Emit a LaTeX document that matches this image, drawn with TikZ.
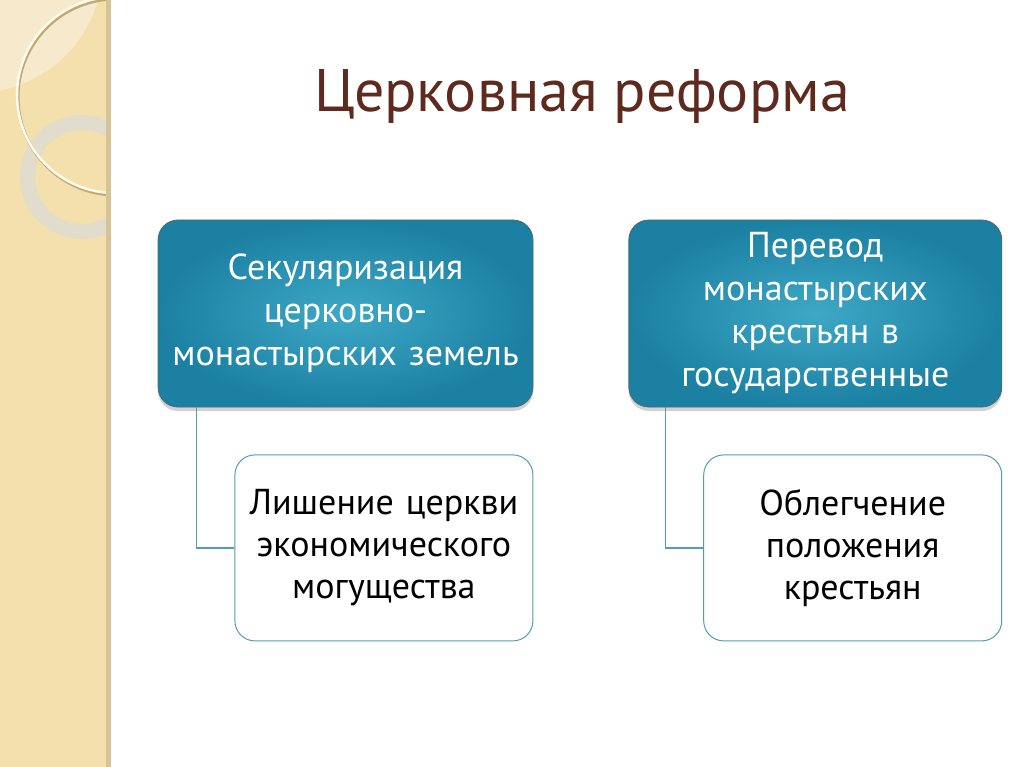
\documentclass[tikz,border=0pt]{standalone}
\usepackage{fontspec}
\setmainfont{PT Sans}
\usetikzlibrary{positioning,shadows}
\definecolor{stripbg}{RGB}{243,224,172}
\definecolor{striplight}{RGB}{247,234,204}
\definecolor{stripedge}{RGB}{214,196,148}
\definecolor{ringgrey}{RGB}{226,220,204}
\definecolor{ringcream}{RGB}{255,251,236}
\definecolor{ringtan}{RGB}{190,170,120}
\definecolor{titlebrown}{RGB}{94,42,30}
\definecolor{tealin}{RGB}{62,168,198}
\definecolor{tealout}{RGB}{27,128,162}
\definecolor{tealborder}{RGB}{80,104,116}
\definecolor{linkteal}{RGB}{84,156,178}
\tikzset{
    main box/.style = {
        rectangle,
        rounded corners=20pt,
        draw=tealborder,
        line width=0.8pt,
        inner color=tealin,
        outer color=tealout,
        text=white,
        align=center,
        minimum height=187pt,
        font=\fontsize{36}{43}\selectfont,
        drop shadow={opacity=0.35, shadow xshift=0pt, shadow yshift=-4pt},
        },
    sub box/.style = {
        rectangle,
        rounded corners=20pt,
        draw=linkteal,
        line width=1pt,
        fill=white,
        text=black,
        align=center,
        minimum width=298pt,
        minimum height=186pt,
        text width=290pt,
        font=\fontsize{36}{42}\selectfont,
        },
    link/.style = {
        draw=linkteal,
        line width=1.2pt,
        },
}
\begin{document}
\begin{tikzpicture}[x=1pt,y=-1pt]
    \useasboundingbox (0,0) rectangle (1024,767);
    \fill[white] (0,0) rectangle (1024,767);
    % left strip
    \fill[stripbg] (0,0) rectangle (108,767);
    \begin{scope}
        \clip (0,0) rectangle (108,767);
        \fill[striplight] (-25,-35) circle (128);
        \draw[ringgrey, line width=15pt] (82,177) circle (54.5);
        \draw[ringtan, line width=3pt] (116,97) circle (98);
        \draw[ringcream, line width=2.5pt] (115,95) circle (98);
    \end{scope}
    \fill[stripedge] (106,0) rectangle (111,767);

    \node[text=titlebrown, font=\fontsize{60}{72}\selectfont] (title) at (582,97) {Церковная реформа};

    \node[main box, minimum width=375pt, text width=365pt] (secul) at (345.5,313.5)
        {Секуляризация\\церковно-\\монастырских земель};
    \node[main box, minimum width=373pt, text width=365pt, right=95pt of secul] (transfer)
        {Перевод\\монастырских\\крестьян в\\государственные};

    \node[sub box, below left=47pt and 0pt of secul.south east] (loss)
        {Лишение церкви\\экономического\\могущества};
    \node[sub box, below left=47pt and 0pt of transfer.south east] (relief)
        {Облегчение\\положения\\крестьян};

    \draw[link] ([xshift=39pt]secul.south west) |- (loss.west);
    \draw[link] ([xshift=37pt]transfer.south west) |- (relief.west);
\end{tikzpicture}
\end{document}
